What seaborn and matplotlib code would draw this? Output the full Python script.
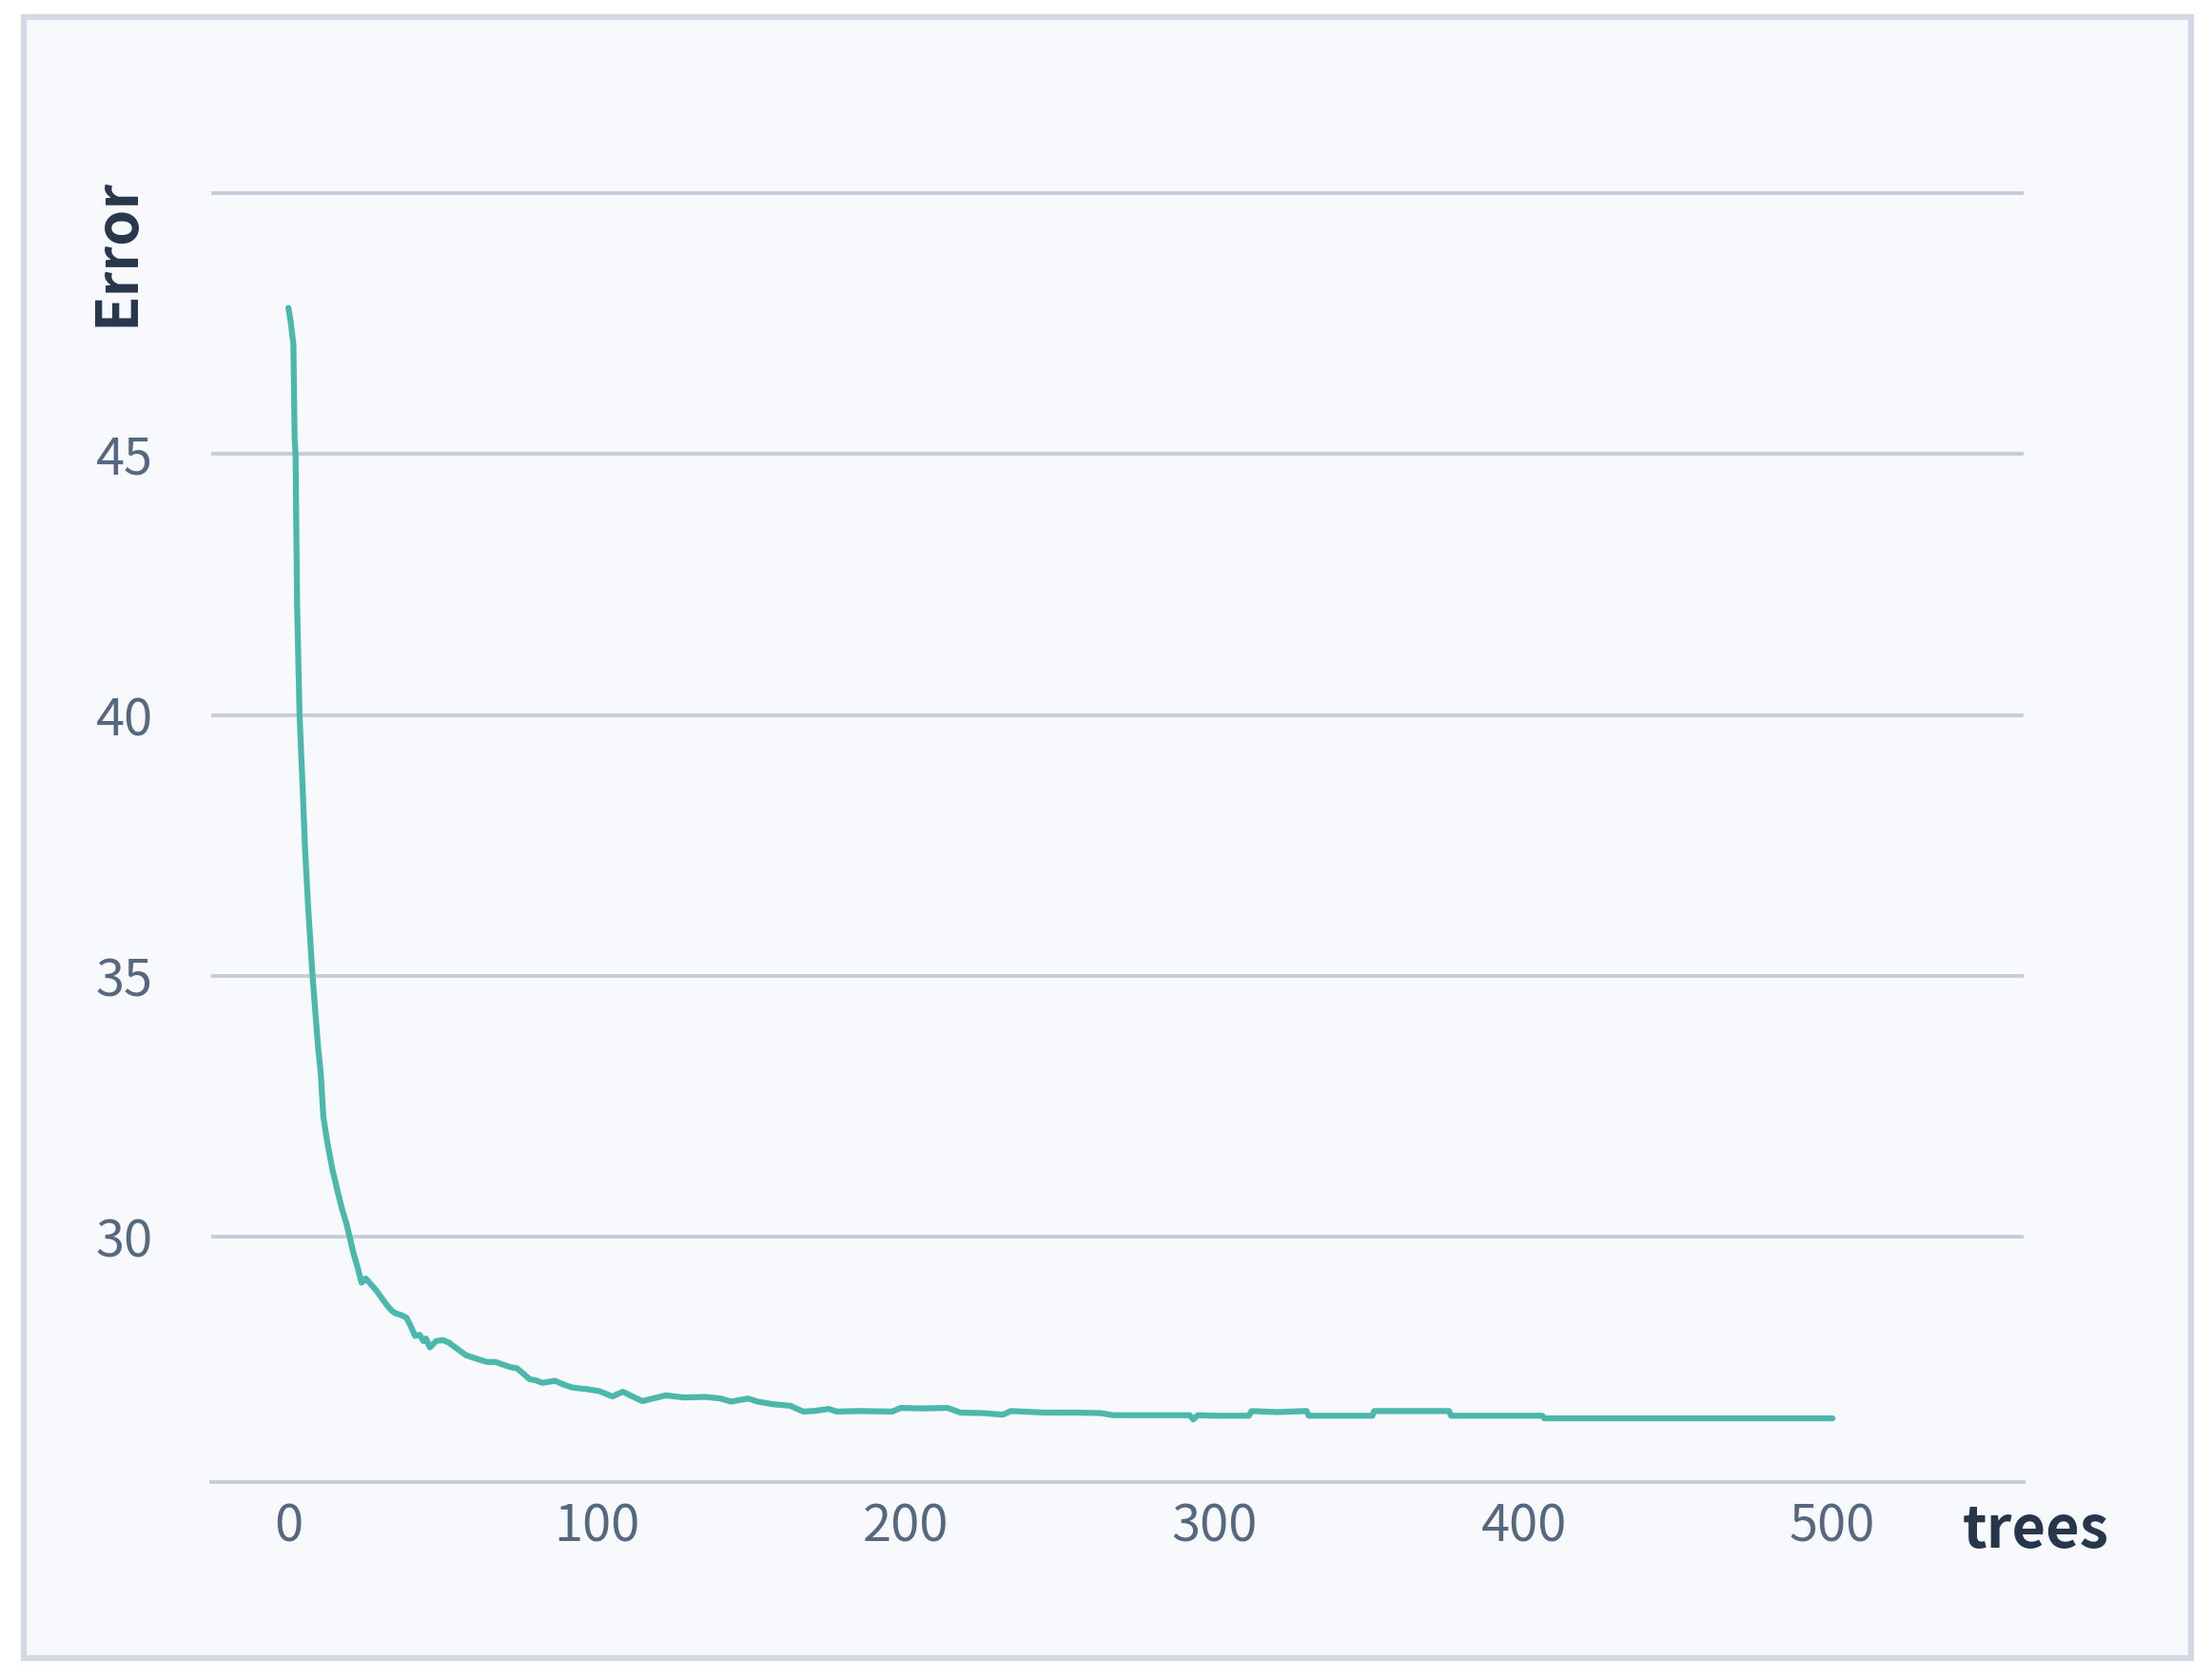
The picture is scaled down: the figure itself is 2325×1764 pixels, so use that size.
import matplotlib
matplotlib.use("Agg")
import matplotlib.pyplot as plt
import seaborn as sns
from matplotlib.patches import Rectangle

# values (trees -> error)
trees = [
    0, 0.8, 1.6, 2.0, 2.3, 2.8, 3.6, 4.6, 5.4, 6.4,
    7.8, 9.5, 10.5, 11.3, 12.6, 14.2, 16.2, 17.5, 18.8, 19.8,
    21.0, 22.2, 23.7, 25.0, 25.8, 26.5, 28.6, 30.5, 32.0, 33.5,
    34.8, 36.5, 38.2, 39.5, 41.0, 42.5, 43.7, 44.5, 45.8, 47.8,
    50, 52, 54, 57.5, 61, 64.4, 67, 69.9, 72, 74,
    76, 78.1, 80, 82.2, 86.3, 89, 91.9, 96.6, 100.7, 104.9,
    108.3, 111, 114.6, 118, 122.2, 128, 135, 140, 143.3, 148.8,
    152, 157, 162.5, 166.7, 170, 174.9, 177.6, 185, 195.5, 198.3,
    205, 213.4, 217.6, 225, 231.3, 234, 245, 255, 263, 267,
    280, 291.8, 293, 294.5, 300, 311, 311.9, 320, 329.7, 330.4,
    340, 351, 351.6, 360, 375.8, 376.5, 390, 406, 406.7, 450,
    500,
]
error = [
    47.8, 47.5, 47.1, 45.3, 45.0, 42.1, 40.0, 38.6, 37.4, 36.3,
    35.0, 33.7, 33.1, 32.3, 31.8, 31.3, 30.8, 30.5, 30.25, 30.0,
    29.7, 29.45, 29.12, 29.2, 29.15, 29.1, 28.96, 28.8, 28.68, 28.58,
    28.53, 28.5, 28.45, 28.3, 28.1, 28.12, 28.0, 28.05, 27.88, 28.0,
    28.02, 27.97, 27.88, 27.73, 27.66, 27.6, 27.6, 27.54, 27.5, 27.48,
    27.38, 27.27, 27.25, 27.2, 27.24, 27.17, 27.11, 27.08, 27.04, 26.94,
    27.03, 26.95, 26.85, 26.9, 26.96, 26.92, 26.93, 26.9, 26.84, 26.9,
    26.84, 26.79, 26.76, 26.65, 26.66, 26.7, 26.65, 26.66, 26.65, 26.72,
    26.71, 26.72, 26.63, 26.62, 26.59, 26.66, 26.63, 26.63, 26.62, 26.58,
    26.58, 26.58, 26.5, 26.58, 26.57, 26.57, 26.66, 26.64, 26.66, 26.57,
    26.57, 26.57, 26.66, 26.66, 26.66, 26.57, 26.57, 26.57, 26.52, 26.52,
    26.52,
]

x_ticks = [0, 100, 200, 300, 400, 500]
y_ticks = [30, 35, 40, 45, 50]
y_tick_labels = ["30", "35", "40", "45", ""]

bg = "#f8f9fc"
grid_col = "#c6ccdb"
tick_col = "#566880"
label_col = "#27364a"
line_col = "#4cb8ad"
font = ["Noto Sans CJK KR", "Noto Sans", "DejaVu Sans"]

sns.set_style("white")
plt.rcParams["font.family"] = font

fig = plt.figure(figsize=(23.25, 17.64), dpi=100, facecolor="white")
fig.patches.append(Rectangle((0.0108, 0.0119), 0.9798, 0.978, transform=fig.transFigure,
                             facecolor=bg, edgecolor="#d3d9e4", lw=4.5, zorder=-10))

ax = fig.add_axes([0.0955, 0.1168, 0.8195, 0.7744])
ax.set_facecolor(bg)

sns.lineplot(x=trees, y=error, ax=ax, color=line_col, lw=4.5)

ax.set_xlim(-25, 562)
ax.set_ylim(25.3, 50.2)
ax.set_xticks(x_ticks)
ax.set_yticks(y_ticks)
ax.set_yticklabels(y_tick_labels)
ax.grid(axis="y", color=grid_col, lw=2.8)
ax.grid(axis="x", visible=False)

for side in ["top", "right", "left"]:
    ax.spines[side].set_visible(False)
ax.spines["bottom"].set_color(grid_col)
ax.spines["bottom"].set_linewidth(2.8)

ax.tick_params(axis="x", length=0, pad=14, labelsize=39, labelcolor=tick_col)
ax.tick_params(axis="y", length=0, pad=44, labelsize=39, labelcolor=tick_col)
ax.set_xlabel("")
ax.set_ylabel("")

fig.text(123 / 2325, 1 - 265 / 1764, "Error", rotation=90, ha="center", va="center",
         fontsize=44, color=label_col, fontweight="bold")
fig.text(2140 / 2325, 1 - 1627 / 1764, "trees", ha="center", va="baseline",
         fontsize=44, color=label_col, fontweight="bold")

fig.savefig("out.png", dpi=100, facecolor="white")
